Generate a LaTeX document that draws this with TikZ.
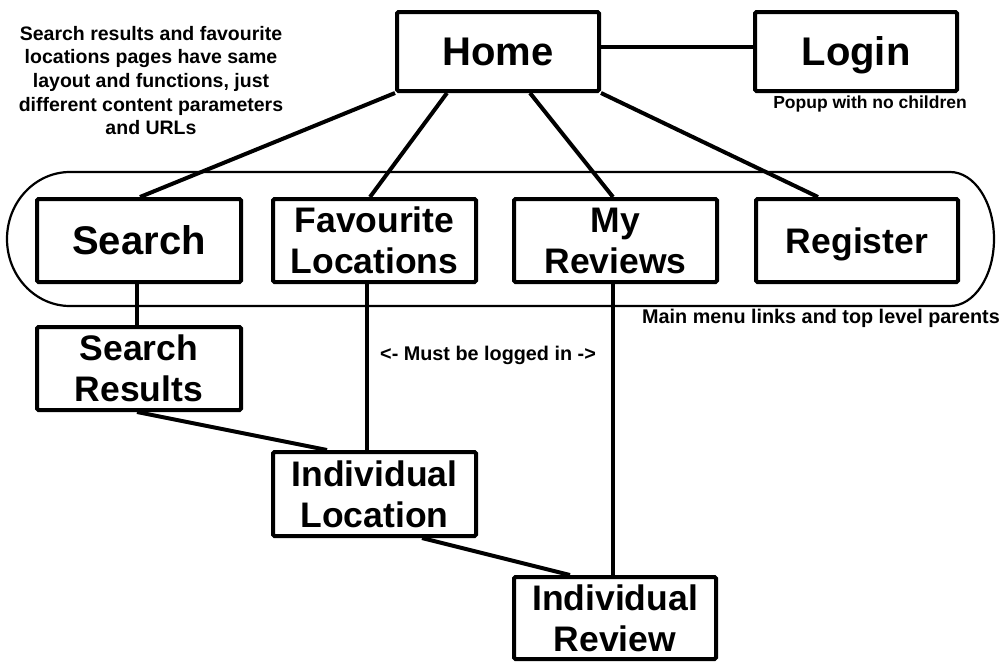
\documentclass[tikz,border=0pt]{standalone}
\usepackage{fontspec}
\setmainfont{Liberation Sans}
\begin{document}
\begin{tikzpicture}[x=1pt,y=-1pt,
  box/.style={draw, line width=4pt, fill=white, rounded corners=1.5pt, inner sep=0pt, align=center},
  big/.style={font=\bfseries\fontsize{40}{44}\selectfont, text height=28.6pt, text depth=0pt},
  med/.style={font=\bfseries\fontsize{35.5}{41}\selectfont},
  medone/.style={font=\bfseries\fontsize{35.5}{41}\selectfont, text height=25.4pt, text depth=0pt},
  note/.style={font=\bfseries\fontsize{19.5}{23.7}\selectfont, align=center, inner sep=0pt},
  small/.style={font=\bfseries\fontsize{17.5}{21}\selectfont, inner sep=0pt},
  link/.style={line width=4pt},
  group/.style={line width=2.2pt}]
\useasboundingbox (0,0) rectangle (1007,672);

% grouping outline of main menu
\draw[group] (70,172) -- (950,172)
  arc[start angle=-90, end angle=90, x radius=44, y radius=67]
  -- (70,306)
  arc[start angle=90, end angle=270, x radius=63, y radius=67] -- cycle;

% nodes
\node[box,big,minimum width=202pt,minimum height=79pt] (home) at (498,51.5) {Home};
\node[box,big,minimum width=202pt,minimum height=79pt] (login) at (856,51.5) {Login};
\node[box,big,minimum width=204pt,minimum height=83pt] (search) at (139,240.5) {Search};
\node[box,med,minimum width=203pt,minimum height=83pt] (fav) at (374.5,240.5) {Favourite\\Locations};
\node[box,med,minimum width=203pt,minimum height=83pt] (myrev) at (615.5,240.5) {My\\Reviews};
\node[box,medone,minimum width=202pt,minimum height=83pt] (register) at (857,240.5) {Register};
\node[box,med,minimum width=204pt,minimum height=83pt] (sres) at (139,368.5) {Search\\Results};
\node[box,med,minimum width=203pt,minimum height=84pt] (indloc) at (374.5,494) {Individual\\Location};
\node[box,med,minimum width=202pt,minimum height=82pt] (indrev) at (615,618) {Individual\\Review};

% notes
\node[note] (topnote) at (151,80.5) {Search results and favourite\\locations pages have same\\layout and functions, just\\different content parameters\\and URLs};
\node[small] (popup) at (870,104) {Popup with no children};
\node[small,font=\bfseries\fontsize{19.8}{23}\selectfont] (mainmenu) at (821,318) {Main menu links and top level parents};
\node[small,font=\bfseries\fontsize{19.8}{23}\selectfont] (mustbe) at (488,355) {<- Must be logged in ->};

% connectors
\draw[link] ([yshift=4.5pt]home.east) -- ([yshift=4.5pt]login.west);
\draw[link] (home.south west) -- ([xshift=1pt]search.north);
\draw[link] ([xshift=-51pt]home.south) -- ([xshift=-4.5pt]fav.north);
\draw[link] ([xshift=32pt]home.south) -- ([xshift=-2.5pt]myrev.north);
\draw[link] (home.south east) -- ([xshift=-39pt]register.north);
\draw[link] ([xshift=-2pt]search.south) -- ([xshift=-2pt]sres.north);
\draw[link] ([xshift=-7.5pt]fav.south) -- ([xshift=-7.5pt]indloc.north);
\draw[link] ([xshift=-3pt]myrev.south) -- ([xshift=-2.5pt]indrev.north);
\draw[link] ([xshift=-2pt]sres.south) -- ([xshift=-47.5pt]indloc.north);
\draw[link] ([xshift=47.5pt]indloc.south) -- ([xshift=-45pt]indrev.north);
\end{tikzpicture}
\end{document}
